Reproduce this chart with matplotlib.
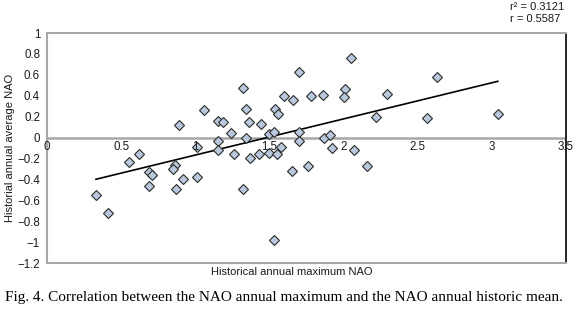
import numpy as np
import matplotlib.pyplot as plt

plt.rcParams['font.family'] = ['Liberation Sans', 'DejaVu Sans']

# NAO annual maximum (x) vs annual average (y)
nao_max = [0.33, 0.41, 0.55, 0.62, 0.69, 0.71, 0.69, 0.86, 0.85, 0.87,
           0.92, 1.01, 1.01, 0.89, 1.06, 2.05, 1.70, 1.32, 1.60, 1.66,
           1.78, 1.86, 2.01, 2.00, 2.29, 1.34, 1.54, 1.56, 1.15, 1.19,
           1.36, 1.44, 1.24, 1.34, 1.50, 1.53, 1.70, 1.70, 1.87, 1.91,
           2.22, 1.15, 1.15, 1.26, 1.37, 1.43, 1.50, 1.55, 1.58, 1.92,
           2.07, 1.65, 1.76, 2.16, 1.32, 1.53, 2.63, 2.56, 3.04]
nao_mean = [-0.55, -0.72, -0.23, -0.16, -0.33, -0.36, -0.46, -0.26, -0.30, -0.49,
            -0.40, -0.38, -0.09, 0.12, 0.26, 0.76, 0.63, 0.47, 0.40, 0.36,
            0.40, 0.41, 0.46, 0.385, 0.42, 0.27, 0.27, 0.23, 0.16, 0.15,
            0.15, 0.13, 0.04, 0.00, 0.03, 0.05, 0.05, -0.03, 0.00, 0.02,
            0.20, -0.03, -0.12, -0.16, -0.20, -0.16, -0.15, -0.16, -0.09, -0.10,
            -0.12, -0.32, -0.27, -0.27, -0.49, -0.98, 0.575, 0.19, 0.23]

x_ticks = [0, 0.5, 1, 1.5, 2, 2.5, 3, 3.5]
y_ticks = [1, 0.8, 0.6, 0.4, 0.2, 0, -0.2, -0.4, -0.6, -0.8, -1, -1.2]
stats_text = ["r\u00b2 = 0.3121", "r = 0.5587"]

x = np.array(nao_max)
y = np.array(nao_mean)
slope, icpt = np.polyfit(x, y, 1)

fig = plt.figure(figsize=(5.76, 3.14), dpi=100)
ax = fig.add_axes([47 / 576, 1 - 263 / 314, 519 / 576, 230 / 314])

ax.axhline(0, color='#A8A8A8', lw=1.8, zorder=1)
xl = np.array([x.min(), x.max()])
ax.plot(xl, slope * xl + icpt, color='black', lw=1.2, zorder=2)
ax.plot(x, y, linestyle='none', marker='D', markersize=4.8,
        markerfacecolor='#B8C9DE', markeredgecolor='#2B2B2B',
        markeredgewidth=0.8, zorder=3)

ax.set_xlim(0, 3.5)
ax.set_ylim(-1.2, 1)
ax.set_xticks([])
ax.set_yticks(y_ticks)
ax.set_yticklabels([('%g' % v).replace('-', '\u2212') for v in y_ticks])
ax.tick_params(axis='y', length=0, pad=5, labelsize=8.3, labelcolor='#1A1A1A')

# x labels sit under the zero line, Excel style
for v in x_ticks:
    ax.annotate('%g' % v, (v, 0), xytext=(0, -2.5), textcoords='offset points',
                ha='center', va='top', fontsize=8.3, color='#1A1A1A')

for side in ['top', 'bottom', 'left']:
    ax.spines[side].set_color('#A8A8A8')
    ax.spines[side].set_linewidth(1.5)
ax.spines['right'].set_color('black')
ax.spines['right'].set_linewidth(1.2)

fig.text(10 / 576, 1 - 148 / 314, 'Historial annual average NAO', rotation=90,
         ha='center', va='center', fontsize=8, color='#1A1A1A')
fig.text(292 / 576, 1 - 272 / 314, 'Historical annual maximum NAO',
         ha='center', va='center', fontsize=8, color='#1A1A1A')
fig.text(510 / 576, 1 - 7 / 314, stats_text[0], ha='left', va='center',
         fontsize=8, color='#1A1A1A')
fig.text(510 / 576, 1 - 19 / 314, stats_text[1], ha='left', va='center',
         fontsize=8, color='#1A1A1A')

fig.text(5 / 576, 1 - 298 / 314,
         'Fig. 4. Correlation between the NAO annual maximum and the NAO annual historic mean.',
         ha='left', va='center', fontsize=11, family='Liberation Serif', color='black')

fig.savefig('out.png', dpi=100)
